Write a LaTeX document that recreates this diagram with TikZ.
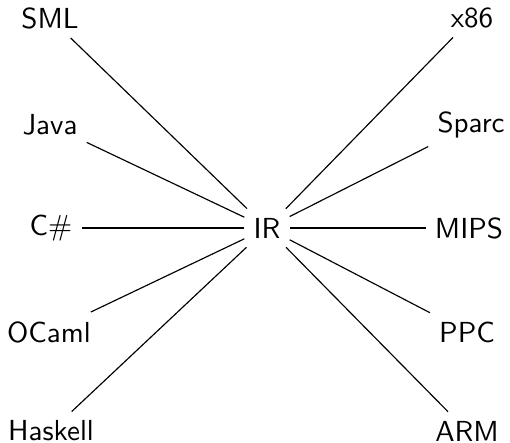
\documentclass[tikz,border=0pt]{standalone}
\begin{document}
\begin{tikzpicture}[x=0.345pt,y=-0.345pt,
  lang/.style={font=\sffamily, inner sep=3pt},
  conn/.style={line width=0.4pt}]
\useasboundingbox (0,0) rectangle (510,443);
\node[lang] (ir) at (267,228) {IR};
\node[lang] (sml) at (50,18) {SML};
\node[lang] (java) at (50,125) {Java};
\node[lang] (cs) at (51,228) {C$\#$};
\node[lang] (ocaml) at (49,332) {OCaml};
\node[lang] (haskell) at (51,431) {Haskell};
\node[lang] (x86) at (472,18) {x86};
\node[lang] (sparc) at (471,125) {Sparc};
\node[lang] (mips) at (469,228) {MIPS};
\node[lang] (ppc) at (467,332) {PPC};
\node[lang] (arm) at (467,431) {ARM};
\foreach \n in {sml,java,cs,ocaml,haskell,x86,sparc,mips,ppc,arm}
  \draw[conn] (\n) -- (ir);
\end{tikzpicture}
\end{document}
